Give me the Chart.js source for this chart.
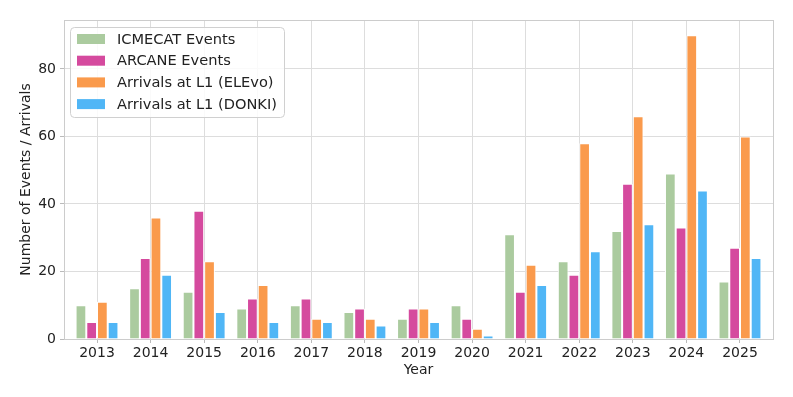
<!DOCTYPE html>
<html>
<head>
<meta charset="utf-8">
<script src="https://cdn.jsdelivr.net/npm/chart.js@4"></script>
<style>
  html, body { margin: 0; padding: 0; background: #fff; }
  #wrap { width: 793px; height: 397px; }
</style>
</head>
<body>
<div id="wrap"><canvas id="events-chart" width="793" height="397"></canvas></div>
<script>
// Data
const years = ["2013", "2014", "2015", "2016", "2017", "2018", "2019", "2020", "2021", "2022", "2023", "2024", "2025"];
const icmecatEvents = [10, 15, 14, 9, 10, 8, 6, 10, 31, 23, 32, 49, 17];
const arcaneEvents = [5, 24, 38, 12, 12, 9, 9, 6, 14, 19, 46, 33, 27];
const elevoArrivals = [11, 36, 23, 16, 6, 6, 9, 3, 22, 58, 66, 90, 60];
const donkiArrivals = [5, 19, 8, 5, 5, 4, 5, 1, 16, 26, 34, 44, 24];
const yTicks = [0, 20, 40, 60, 80];

const FONT = "'DejaVu Sans', sans-serif";
const GRID = "#dddddd";
const X_MARGIN = 0.616; // space before first / after last year, in categories

// legend drawn inside the plot, top left, like matplotlib
const insideLegend = {
  id: "insideLegend",
  afterDraw(chart) {
    const ctx = chart.ctx;
    const area = chart.chartArea;
    const x = area.left + 6, y = area.top + 7, w = 214, h = 90;
    ctx.save();
    ctx.fillStyle = "rgba(255,255,255,0.85)";
    ctx.strokeStyle = "#d0d0d0";
    ctx.lineWidth = 1;
    ctx.beginPath();
    ctx.roundRect(x + 0.5, y + 0.5, w, h, 4);
    ctx.fill();
    ctx.stroke();
    ctx.font = "14.6px " + FONT;
    ctx.textBaseline = "middle";
    chart.data.datasets.forEach((ds, i) => {
      const cy = y + 12 + i * 21.7;
      ctx.fillStyle = ds.backgroundColor;
      ctx.fillRect(x + 7, cy - 5, 28, 10);
      ctx.fillStyle = "#222";
      ctx.fillText(ds.label, x + 47, cy + 1);
    });
    ctx.restore();
  },
};

// light frame around the plot area
const frame = {
  id: "frame",
  afterDatasetsDraw(chart) {
    const a = chart.chartArea;
    const ctx = chart.ctx;
    ctx.save();
    ctx.strokeStyle = "#cccccc";
    ctx.lineWidth = 1;
    ctx.strokeRect(a.left + 0.5, a.top + 0.5, a.right - a.left, a.bottom - a.top);
    ctx.restore();
  },
};

const ctx = document.getElementById("events-chart").getContext("2d");
new Chart(ctx, {
  type: "bar",
  data: {
    labels: years,
    datasets: [
      { label: "ICMECAT Events", data: icmecatEvents, backgroundColor: "#abcb9f" },
      { label: "ARCANE Events", data: arcaneEvents, backgroundColor: "#d54a9e" },
      { label: "Arrivals at L1 (ELEvo)", data: elevoArrivals, backgroundColor: "#fa9a4c" },
      { label: "Arrivals at L1 (DONKI)", data: donkiArrivals, backgroundColor: "#50b6f6" },
    ].map((d) => ({
      ...d,
      borderColor: "#ffffff",
      borderWidth: 1,
      borderSkipped: "start",
      categoryPercentage: 0.8,
      barPercentage: 1.0,
    })),
  },
  options: {
    responsive: false,
    animation: false,
    devicePixelRatio: 1,
    layout: { padding: { top: 20, right: 20, left: 0, bottom: 0 } },
    plugins: {
      legend: { display: false },
      tooltip: { enabled: false },
    },
    scales: {
      x: {
        grid: { offset: false, color: GRID, tickLength: 4, tickColor: "#bbbbbb" },
        border: { display: false },
        ticks: { font: { family: FONT, size: 14 }, color: "#222", padding: 2 },
        title: { display: true, text: "Year", font: { family: FONT, size: 14 }, color: "#222", padding: { top: 0, bottom: 18 } },
        afterBuildTicks(scale) {
          // wider side margins than the default half category
          scale._startValue = -X_MARGIN;
          scale._valueRange = years.length - 1 + 2 * X_MARGIN;
        },
        afterFit(scale) { scale.height = 58; },
      },
      y: {
        min: 0,
        max: 94.5,
        afterBuildTicks(scale) { scale.ticks = yTicks.map((v) => ({ value: v })); },
        grid: { color: GRID, tickLength: 4, tickColor: "#bbbbbb" },
        border: { display: false },
        ticks: { font: { family: FONT, size: 14 }, color: "#222", padding: 4 },
        title: { display: true, text: "Number of Events / Arrivals", font: { family: FONT, size: 14 }, color: "#222", padding: { top: 18, bottom: 0 } },
        afterFit(scale) { scale.width = 64; },
      },
    },
  },
  plugins: [frame, insideLegend],
});
</script>
</body>
</html>
